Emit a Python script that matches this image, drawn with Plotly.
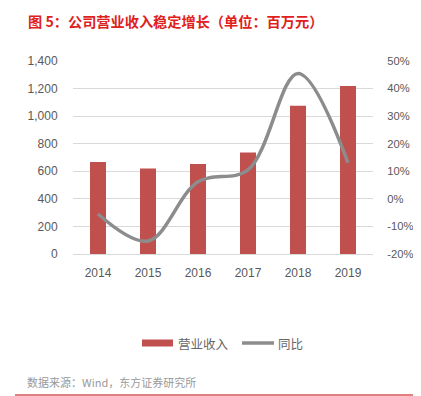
import plotly.graph_objects as go

years = ["2014", "2015", "2016", "2017", "2018", "2019"]
revenue = [667, 621, 652, 737, 1075, 1218]
yoy = [-0.055, -0.153, 0.062, 0.105, 0.455, 0.131]

y2_ticks = [-0.2, -0.1, 0.0, 0.1, 0.2, 0.3, 0.4, 0.5]
y2_labels = ["-20%", "-10%", "0%", "10%", "20%", "30%", "40%", "50%"]

bar_name = "营业收入"
line_name = "同比"
title_text = "图 5：公司营业收入稳定增长（单位：百万元）"
source_text = "数据来源：Wind，东方证券研究所"

FONT = "Liberation Sans, Noto Sans CJK SC, sans-serif"
CJK = "Noto Sans CJK SC, sans-serif"

# window pixel -> paper coords (plot area: x 73..373, y 61..254 in window)
def px(x):
    return (x - 73) / 300.0

def py(y):
    return (254 - y) / 193.0

fig = go.Figure()
fig.add_trace(go.Bar(x=years, y=revenue, name=bar_name, marker_color="#C0504D",
                     marker_line_width=0, showlegend=False))
fig.add_trace(go.Scatter(x=years, y=yoy, name=line_name, yaxis="y2", mode="lines",
                         showlegend=False,
                         line=dict(color="#8C8C8C", width=3.5, shape="spline", smoothing=1)))

fig.update_layout(
    width=413, height=388,
    margin=dict(l=65, r=48, t=53, b=142, autoexpand=False),
    paper_bgcolor="white", plot_bgcolor="white",
    bargap=0.68,
    font=dict(family=FONT, size=12, color="#595959"),
    showlegend=False,
    xaxis=dict(showgrid=False, showline=True, linecolor="#D9D9D9", linewidth=1,
               ticks="outside", ticklen=8, tickcolor="rgba(0,0,0,0)", automargin=False,
               tickfont=dict(size=12, color="#595959")),
    yaxis=dict(range=[0, 1400], dtick=200, tickformat=",", showgrid=True,
               gridcolor="#D9D9D9", gridwidth=1, zeroline=False, showline=False,
               automargin=False,
               ticks="outside", ticklen=12, tickcolor="rgba(0,0,0,0)"),
    yaxis2=dict(range=[-0.2, 0.5], tickvals=y2_ticks, ticktext=y2_labels, overlaying="y",
                side="right", showgrid=False, zeroline=False, showline=False,
                automargin=False, tickfont=dict(size=11.2, color="#595959"),
                ticks="outside", ticklen=11, tickcolor="rgba(0,0,0,0)"),
    shapes=[
        dict(type="line", xref="paper", yref="paper", x0=px(17), x1=px(416),
             y0=py(7), y1=py(7), line=dict(color="#E0211B", width=1.2)),
        dict(type="line", xref="paper", yref="paper", x0=px(15), x1=px(416),
             y0=py(395), y1=py(395), line=dict(color="#C00000", width=1.2)),
        # legend swatches
        dict(type="rect", xref="paper", yref="paper", x0=px(142), x1=px(173),
             y0=py(346.5), y1=py(339.5), fillcolor="#C0504D", line=dict(width=0)),
        dict(type="line", xref="paper", yref="paper", x0=px(242), x1=px(274),
             y0=py(343), y1=py(343), line=dict(color="#8C8C8C", width=3.5)),
    ],
    annotations=[
        dict(text="<b>" + title_text + "</b>", xref="paper", yref="paper",
             x=px(26), y=py(21), xanchor="left", yanchor="middle",
             showarrow=False, font=dict(family=CJK, size=14.2, color="#E0211B")),
        dict(text=source_text, xref="paper", yref="paper",
             x=px(25), y=py(382), xanchor="left", yanchor="middle",
             showarrow=False, font=dict(family=CJK, size=11, color="#999999")),
        dict(text=bar_name, xref="paper", yref="paper",
             x=px(176), y=py(343), xanchor="left", yanchor="middle",
             showarrow=False, font=dict(family=CJK, size=12.5, color="#666666")),
        dict(text=line_name, xref="paper", yref="paper",
             x=px(276), y=py(343), xanchor="left", yanchor="middle",
             showarrow=False, font=dict(family=CJK, size=12.5, color="#666666")),
    ],
)

fig.write_html("out.html")
